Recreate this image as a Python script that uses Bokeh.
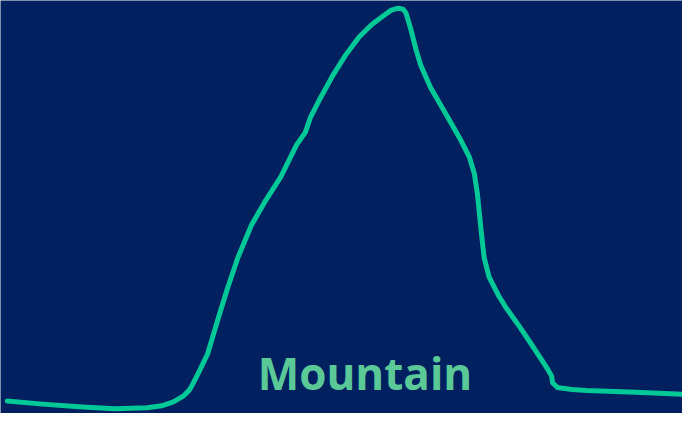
from bokeh.plotting import figure
from bokeh.models import Range1d, Label
from bokeh.embed import file_html
from bokeh.resources import INLINE

# Profile of the mountain: distance along the track and elevation
distance = [7, 40, 80, 117, 150, 165, 177, 187, 193, 197, 203, 212, 217, 222, 232,
            243, 257, 270, 287, 303, 312, 317, 327, 340, 353, 367, 380, 393, 400, 407,
            412, 415, 420, 425, 430, 440, 457, 470, 480, 485, 488, 490, 492, 495, 500,
            510, 518, 530, 542, 553, 560, 564, 565, 570, 585, 600, 650, 698]
elevation = [13, 10, 7, 5, 6, 8, 12, 18, 24, 31, 43, 62, 79, 96, 129,
             162, 196, 219, 246, 279, 292, 307, 327, 351, 372, 391, 404, 414, 419, 421,
             420, 416, 399, 379, 362, 339, 309, 286, 266, 249, 229, 209, 189, 162, 142,
             122, 109, 92, 74, 57, 46, 39, 32, 27, 25, 24, 22, 20]
title_text = "Mountain"

BG = "#002060"
W, H = 682, 413

p = figure(width=W, height=H, output_backend="svg", toolbar_location=None,
           x_range=Range1d(0, 698), y_range=Range1d(0, 429), min_border=0)
p.axis.visible = False
p.grid.visible = False
p.outline_line_color = None
p.background_fill_color = BG
p.border_fill_color = BG

p.line(distance, elevation, line_color="#00C896", line_width=5, line_cap="round", line_join="round")

lab = Label(x=373, y=26, text=title_text, text_align="center", text_baseline="middle",
            y_offset=15, text_font="Open Sans", text_font_style="bold", text_font_size="44px",
            text_color="#5BC898", text_line_height=1.0)
p.add_layout(lab)

open("out.html", "w").write(file_html(p, INLINE))
